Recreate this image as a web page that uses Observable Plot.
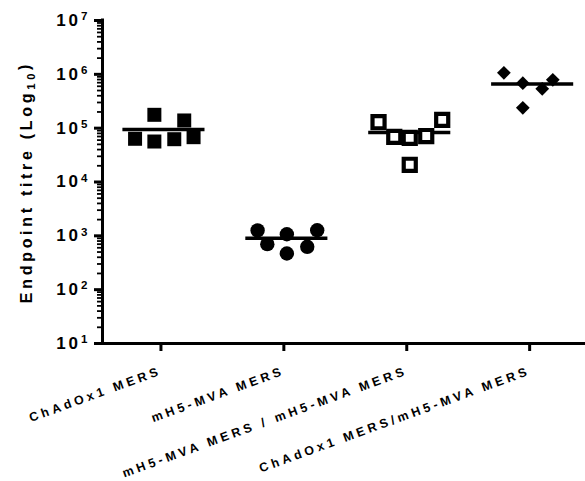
<!DOCTYPE html>
<html><head><meta charset="utf-8">
<script src="https://cdn.jsdelivr.net/npm/d3@7"></script>
<script src="https://cdn.jsdelivr.net/npm/@observablehq/plot@0.6"></script>
<style>
body{margin:0;background:#fff}
#chart svg{font-family:"Liberation Sans",Arial,sans-serif;background:#fff}
#chart g[aria-label="x-axis tick label"] text{letter-spacing:3.6px}
#chart g[aria-label="y-axis tick label"] text{letter-spacing:3px}
</style></head><body><div id="chart"></div>
<script>
const categories = ["ChAdOx1 MERS", "mH5-MVA MERS", "mH5-MVA MERS / mH5-MVA MERS", "ChAdOx1 MERS/mH5-MVA MERS"];
const chadox1Titres = [63500, 177000, 56500, 62400, 139000, 68000];
const chadox1Spread = [-0.235, -0.078, -0.078, 0.084, 0.165, 0.241];
const mvaTitres = [1260, 700, 1070, 470, 625, 1270];
const mvaSpread = [-0.238, -0.159, 0, 0, 0.166, 0.247];
const mvaMvaTitres = [129000, 69100, 66200, 71500, 143000, 20900];
const mvaMvaSpread = [-0.254, -0.126, 0, 0.134, 0.264, 0];
const chadMvaTitres = [1068000, 684000, 239000, 538000, 791000];
const chadMvaSpread = [-0.234, -0.08, -0.08, 0.078, 0.164];
const yTicks = [1e1, 1e2, 1e3, 1e4, 1e5, 1e6, 1e7];
const yTitle = "Endpoint titre (Log_10)";
const minorTicks = d3.scaleLog().domain([10, 1e7]).ticks().filter(d => !yTicks.includes(d));

const groups = [
  {titres: chadox1Titres, spread: chadox1Spread},
  {titres: mvaTitres, spread: mvaSpread},
  {titres: mvaMvaTitres, spread: mvaMvaSpread},
  {titres: chadMvaTitres, spread: chadMvaSpread}
];
const rows = groups.map((g, gi) => g.titres.map((v, j) => ({group: gi, pos: gi + g.spread[j], titre: v})));
const means = groups.map((g, gi) => ({group: gi, titre: d3.mean(g.titres)}));

const chart = Plot.plot({
  width: 585, height: 481,
  marginLeft: 102, marginRight: 0, marginTop: 20, marginBottom: 138,
  style: {fontFamily: '"Liberation Sans", Arial, sans-serif', color: "black"},
  x: {type: "linear", domain: [-0.5, 3.43], axis: null},
  y: {type: "log", domain: [10, 1e7], axis: null},
  marks: [
    Plot.axisY({ticks: minorTicks, tickSize: 5, strokeWidth: 1.8, tickFormat: () => "", label: null}),
    Plot.axisY({ticks: yTicks, tickSize: 8, strokeWidth: 3, tickPadding: 4, label: null,
      tickFormat: d => `10^${Math.round(Math.log10(d))}`, fontSize: 17, fontWeight: "bold"}),
    Plot.ruleX([-0.5], {strokeWidth: 3, strokeLinecap: "square"}),
    Plot.ruleY([10], {strokeWidth: 3, strokeLinecap: "square"}),
    Plot.axisX({ticks: [0, 1, 2, 3], tickSize: 8, strokeWidth: 3, tickFormat: i => categories[i], label: null,
      tickRotate: -20, tickPadding: 19, dx: -3, fontSize: 12.5, fontWeight: "bold"}),
    Plot.ruleY(means, {y: "titre", x1: d => d.group - 0.334, x2: d => d.group + 0.334, strokeWidth: 3.5}),
    Plot.dot(rows[0], {x: "pos", y: "titre", symbol: "square", r: 7.9, fill: "black"}),
    Plot.dot(rows[1], {x: "pos", y: "titre", symbol: "circle", r: 7.2, fill: "black"}),
    Plot.dot(rows[2], {x: "pos", y: "titre", symbol: "square", r: 6.8, fill: "white", stroke: "black", strokeWidth: 4.2}),
    Plot.dot(rows[3], {x: "pos", y: "titre", symbol: "diamond2", r: 6.2, fill: "black"}),
    Plot.text([yTitle], {frameAnchor: "left", textAnchor: "middle", dx: -76, rotate: -90, fontSize: 16, fontWeight: "bold", fill: "black"})
  ]
});

const svg = d3.select(chart);
svg.selectAll('g[aria-label="y-axis tick label"] text').each(function() {
  const [base, exp] = this.textContent.split("^");
  if (exp === undefined) return;
  this.textContent = "";
  const t = d3.select(this);
  t.append("tspan").text(base);
  t.append("tspan").attr("dy", "-0.5em").attr("font-size", "0.68em").text(exp);
});
svg.selectAll("text").filter(function() { return this.textContent === yTitle; }).each(function() {
  const [base, sub] = this.textContent.split("_");
  const num = sub.slice(0, 2), rest = sub.slice(2);
  this.textContent = "";
  const t = d3.select(this).style("letter-spacing", "3.7px");
  t.append("tspan").text(base);
  t.append("tspan").attr("dy", "0.3em").attr("font-size", "0.7em").text(num);
  t.append("tspan").attr("dy", "-0.3em").text(rest);
});
document.getElementById("chart").append(chart);
</script></body></html>
